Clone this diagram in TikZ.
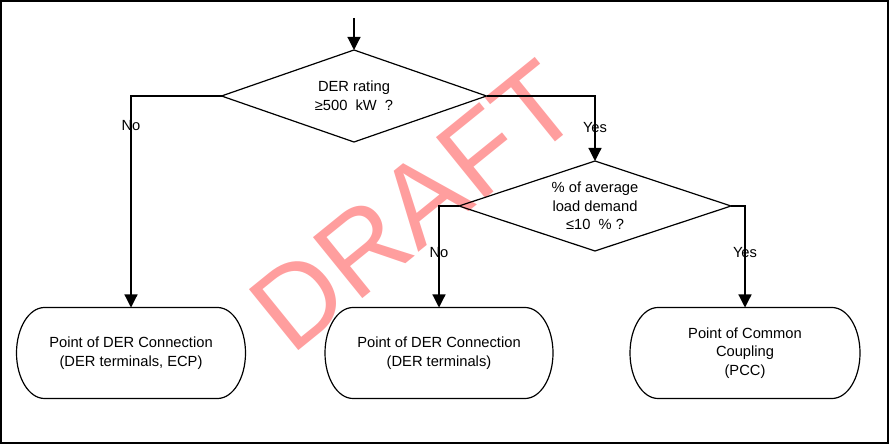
\documentclass[tikz,border=0pt]{standalone}
\usepackage{fontspec}
\setmainfont{Liberation Sans}
\usepackage{xcolor}
\usetikzlibrary{arrows.meta, shapes.geometric}

\definecolor{draftred}{RGB}{255,158,158}

\begin{document}
\begin{tikzpicture}[x=1pt, y=1pt,
		line/.style = {line width=1.2pt},
		arr/.style = {line, -{Triangle[length=13pt, width=13pt]}},
		txt/.style = {font=\fontsize{14.7}{18.5}\selectfont},
		decision/.style = {diamond, draw, line, txt, aspect=2.9, inner sep=0pt, outer sep=0pt, align=center},
		terminal/.style = {txt, minimum height=91pt, outer sep=0pt, align=center},
		branch/.style = {txt, inner sep=0pt}
	]
		\def\rx{28pt}
		\def\ry{45.5pt}
		
		\useasboundingbox (0,0) rectangle (890,444);
		
		% watermark behind everything
		\node [text=draftred, rotate=39, font=\fontsize{114}{114}\selectfont] (draft) at (414,238) {DRAFT};
		
		\draw [line width=2pt] (1,1.5) rectangle (888,443);
		
		\coordinate (entry) at (354,426);
		\node [decision, minimum width=265pt, minimum height=92pt] (rating) at (354,348) {DER rating\\≥500\ \ kW\ \ ?};
		\node [decision, minimum width=272pt, minimum height=90pt] (demand) at (595,238) {\% of average\\load demand\\≤10\ \ \% ?};
		
		\node [terminal, minimum width=229pt] (ecp) at (131,91) {Point of DER Connection\\(DER terminals,\ ECP)};
		\node [terminal, minimum width=228pt] (der) at (439,91) {Point of DER Connection\\(DER terminals)};
		\node [terminal, minimum width=230pt] (pcc) at (745,91) {Point of Common\\Coupling\\(PCC)};
		
		% terminal outlines with elliptic ends
		\foreach \n in {ecp, der, pcc}
			\draw [line] ([xshift=\rx]\n.north west) -- ([xshift=-\rx]\n.north east)
				arc [start angle=90, end angle=-90, x radius=\rx, y radius=\ry]
				-- ([xshift=\rx]\n.south west)
				arc [start angle=270, end angle=90, x radius=\rx, y radius=\ry] -- cycle;
		
		\draw [arr] (entry) -- (rating.north);
		\draw [arr] (rating.west) -| node [branch, pos=0.57] {No} (ecp.north);
		\draw [arr] (rating.east) -| node [branch, pos=0.74] {Yes} (demand.north);
		\draw [arr] (demand.west) -| node [branch, pos=0.73] {No} (der.north);
		\draw [arr] (demand.east) -| node [branch, pos=0.73] {Yes} (pcc.north);
	\end{tikzpicture}
\end{document}
